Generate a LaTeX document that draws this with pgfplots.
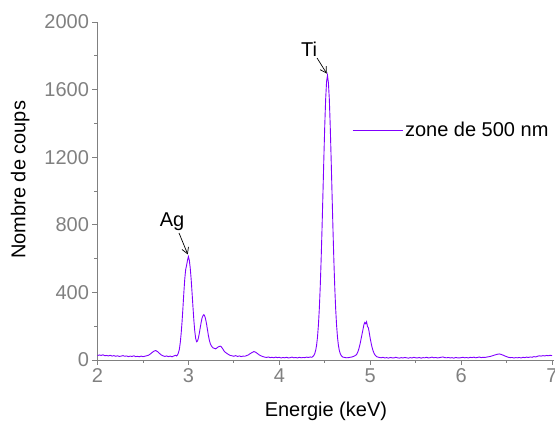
\documentclass[border=0pt]{standalone}
\usepackage{fontspec}
\setmainfont{Liberation Sans}
\usepackage{pgfplots}
\pgfplotsset{compat=1.18}
\usetikzlibrary{arrows.meta}
\definecolor{spec}{RGB}{128,0,255}
\definecolor{axgray}{RGB}{128,128,128}
\begin{document}
\begin{tikzpicture}
\begin{axis}[
  at={(0pt,0pt)}, anchor=south west,
  scale only axis, width=456.8pt, height=338pt,
  xmin=2, xmax=7.025, ymin=0, ymax=2000,
  axis lines*=left,
  axis line style={axgray, line width=0.8pt},
  every tick/.style={axgray, line width=0.8pt},
  tick align=outside,
  major tick length=5pt, minor tick length=3pt,
  xtick={2,3,4,5,6,7}, minor x tick num=1,
  ytick={0,400,800,1200,1600,2000}, minor y tick num=1,
  /pgf/number format/assume math mode=true,
  /pgf/number format/1000 sep={},
  tick label style={text=axgray, font=\fontsize{20}{24}\selectfont},
  xlabel={Energie (keV)}, ylabel={Nombre de coups},
  every axis x label/.style={at={(axis description cs:0.5,-0.151)}, anchor=center, font=\fontsize{20}{24}\selectfont},
  every axis y label/.style={at={(axis description cs:-0.169,0.533)}, anchor=center, rotate=90, font=\fontsize{20}{24}\selectfont},
  legend style={at={(axis description cs:0.557,0.68)}, anchor=west, draw=none, fill=none,
    inner xsep=0pt, font=\fontsize{20}{24}\selectfont},
  legend image code/.code={\draw[#1] (0pt,0pt) -- (50pt,0pt);},
]
\addplot[spec, line width=0.9pt] coordinates {
(2.00,26)(2.02,30)(2.04,27)(2.06,31)(2.08,25)(2.10,27)(2.12,24)(2.14,28)(2.16,23)(2.18,26)
(2.20,22)(2.22,25)(2.24,21)(2.26,23)(2.28,26)(2.30,22)(2.32,24)(2.34,20)(2.36,23)(2.38,21)
(2.40,25)(2.42,20)(2.44,22)(2.46,19)(2.48,23)(2.50,20)(2.52,22)(2.54,25)(2.56,28)(2.58,35)
(2.60,44)(2.62,52)(2.64,56)(2.66,50)(2.68,40)(2.70,30)(2.72,25)(2.74,21)(2.76,24)(2.78,20)
(2.80,23)(2.82,19)(2.84,24)(2.86,28)
(2.87,24)(2.88,30)(2.89,42)(2.90,62)(2.91,100)(2.92,155)(2.93,225)(2.94,310)(2.95,400)(2.96,480)
(2.97,535)(2.98,560)(2.99,590)(3.00,612)(3.01,590)(3.02,545)(3.03,480)(3.04,400)(3.05,315)(3.06,235)
(3.07,170)(3.08,128)(3.09,108)(3.10,112)(3.11,130)(3.12,158)(3.13,190)(3.14,222)(3.15,248)(3.16,262)
(3.17,268)(3.18,260)(3.19,240)(3.20,212)(3.21,178)(3.22,145)(3.23,118)(3.24,98)(3.25,86)(3.26,78)
(3.27,72)(3.28,70)(3.29,68)(3.30,66)(3.31,70)(3.32,74)(3.33,78)(3.34,80)(3.35,82)(3.36,79)
(3.37,72)(3.38,64)(3.39,55)(3.40,48)
(3.42,40)(3.44,33)(3.46,27)(3.48,25)(3.50,22)(3.52,26)(3.54,21)(3.56,24)(3.58,20)(3.60,23)
(3.62,22)(3.64,26)(3.66,30)(3.68,38)(3.70,44)(3.72,50)(3.74,46)(3.76,38)(3.78,30)(3.80,24)
(3.82,20)(3.84,17)(3.86,15)(3.88,18)(3.90,14)(3.92,16)(3.94,13)(3.96,17)(3.98,14)(4.00,16)
(4.02,12)(4.04,15)(4.06,13)(4.08,16)(4.10,12)(4.12,14)(4.14,17)(4.16,13)(4.18,15)(4.20,12)
(4.22,16)(4.24,13)(4.26,15)(4.28,14)(4.30,17)(4.32,15)(4.34,18)
(4.35,16)(4.36,17)(4.37,21)(4.38,27)(4.39,38)(4.40,57)(4.41,87)(4.42,135)(4.43,205)(4.44,302)
(4.45,431)(4.46,591)(4.47,779)(4.48,985)(4.49,1194)(4.50,1388)(4.51,1545)(4.52,1648)(4.53,1684)(4.54,1640)
(4.55,1545)(4.56,1388)(4.57,1194)(4.58,985)(4.59,779)(4.60,591)(4.61,431)(4.62,302)(4.63,205)(4.64,135)
(4.65,87)(4.66,57)(4.67,38)(4.68,27)(4.69,21)(4.70,17)(4.71,16)
(4.72,15)(4.74,13)(4.76,14)(4.78,16)(4.80,18)(4.82,22)(4.84,28)
(4.85,32)(4.86,43)(4.87,57)(4.88,76)(4.89,99)(4.90,126)(4.91,153)(4.92,179)(4.93,208)(4.94,222)
(4.95,215)(4.96,226)(4.97,198)(4.98,190)(4.99,160)(5.00,128)(5.01,100)(5.02,76)(5.03,57)(5.04,43)
(5.05,32)(5.06,25)(5.07,20)
(5.08,18)(5.10,15)(5.12,13)(5.14,16)(5.16,12)(5.18,14)(5.20,11)(5.22,15)(5.24,13)(5.26,12)
(5.28,16)(5.30,13)(5.32,11)(5.34,14)(5.36,12)(5.38,15)(5.40,13)(5.42,11)(5.44,14)(5.46,12)
(5.48,16)(5.50,13)(5.52,12)(5.54,15)(5.56,11)(5.58,14)(5.60,13)(5.62,16)(5.64,12)(5.66,14)
(5.68,17)(5.70,13)(5.72,15)(5.74,12)(5.76,14)(5.78,16)(5.80,18)(5.82,14)(5.84,13)(5.86,15)
(5.88,12)(5.90,14)(5.92,11)(5.94,15)(5.96,13)(5.98,12)(6.00,14)(6.02,16)(6.04,13)(6.06,15)
(6.08,12)(6.10,16)(6.12,14)(6.14,17)(6.16,13)(6.18,15)(6.20,18)(6.22,14)(6.24,16)(6.26,15)
(6.28,17)(6.30,19)(6.32,21)(6.34,24)(6.36,28)(6.38,31)(6.40,34)(6.42,36)(6.44,33)(6.46,29)
(6.48,24)(6.50,20)(6.52,16)(6.54,14)(6.56,15)(6.58,12)(6.60,14)(6.62,13)(6.64,15)(6.66,12)
(6.68,16)(6.70,14)(6.72,17)(6.74,15)(6.76,18)(6.78,16)(6.80,20)(6.82,18)(6.84,22)(6.86,25)
(6.88,23)(6.90,26)(6.92,24)(6.94,27)(6.96,25)(6.98,28)(7.00,26)
};
\addlegendentry{zone de 500 nm}
\node[font=\fontsize{20}{24}\selectfont] at (axis cs:4.327,1840) {Ti};
\draw[-{Straight Barb[length=6pt,width=7pt]}, line width=0.7pt] (axis cs:4.415,1787) -- (axis cs:4.522,1695);
\node[font=\fontsize{20}{24}\selectfont] at (axis cs:2.82,817) {Ag};
\draw[-{Straight Barb[length=6pt,width=7pt]}, line width=0.7pt] (axis cs:2.897,751) -- (axis cs:2.993,625);
\end{axis}
\pgfresetboundingbox
\path[use as bounding box] (-97.5pt,-63pt) rectangle (457.5pt,360pt);
\end{tikzpicture}
\end{document}
